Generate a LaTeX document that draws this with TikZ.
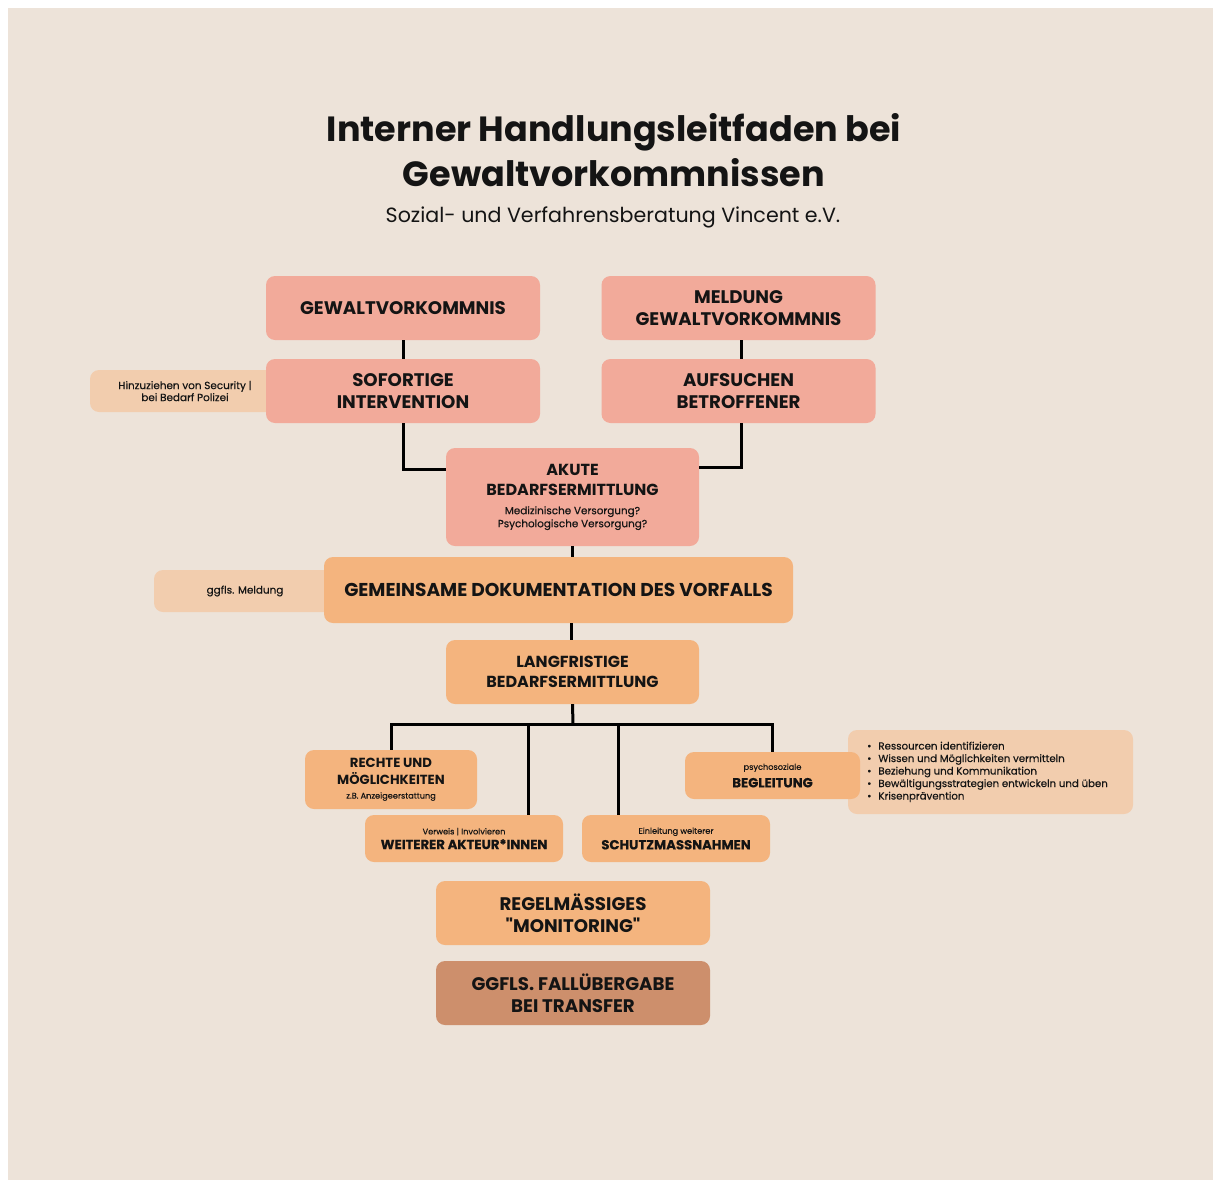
\documentclass[tikz,border=0pt]{standalone}
\usepackage{fontspec}
\setmainfont{Poppins}[Ligatures=TeXOff]
\newfontfamily\medfont{Poppins}[FakeBold=0.35]
\usetikzlibrary{calc}
\definecolor{bgc}{HTML}{EDE3D9}
\definecolor{salmon}{HTML}{F2AA9A}
\definecolor{orng}{HTML}{F4B47E}
\definecolor{lightc}{HTML}{F2CDAE}
\definecolor{brown}{HTML}{CD8F6C}
\definecolor{ink}{HTML}{141414}
\newcommand\myfs[2]{\fontsize{#1}{#2}\selectfont}
\newcommand\smalltxt{\medfont\mdseries\myfs{8.2}{10}}
\newcommand\midtxt{\myfs{13.2}{16}\bfseries}
\newcommand\aktxt{\medfont\mdseries\myfs{10.4}{13}}
\begin{document}
\begin{tikzpicture}[x=1pt,y=-1pt,
  box/.style={rounded corners=9pt, inner sep=0pt, align=center, text=ink},
  big/.style={box, minimum width=274pt, minimum height=64pt, font=\myfs{18.2}{22.5}\bfseries},
  side/.style={box, fill=lightc, minimum height=42pt, font=\medfont\mdseries\myfs{10.4}{12}},
  conn/.style={line width=3pt, black}]
\useasboundingbox (0,0) rectangle (1214,1180);
\fill[white] (0,0) rectangle (1214,1180);
\fill[bgc] (8,8) rectangle (1213,1180);

% title
\node[font=\myfs{35}{45}\bfseries, align=center, text=ink] (title) at (614,150) {Interner Handlungsleitfaden bei\\Gewaltvorkommnissen};
\node[font=\myfs{20.6}{25}, text=ink] (sub) at (613,217) {Sozial- und Verfahrensberatung Vincent e.V.};

% side boxes (behind)
\node[side, minimum width=190pt] (hinzu) at (185,391) {Hinzuziehen von Security |\\bei Bedarf Polizei};
\node[side, minimum width=182pt] (ggfls) at (245,591) {ggfls. Meldung};
\node[side, minimum width=285pt, minimum height=84pt, align=left, font=\medfont\mdseries\myfs{10.2}{12.5}] (bullets) at (990.5,772)
  {\begin{tabular}{@{}l@{\hspace{7pt}}l@{}}
  •&Ressourcen identifizieren\\[0pt]
  •&Wissen und Möglichkeiten vermitteln\\[0pt]
  •&Beziehung und Kommunikation\\[0pt]
  •&Bewältigungsstrategien entwickeln und üben\\[0pt]
  •&Krisenprävention
  \end{tabular}\hspace*{6pt}};

% main boxes
\node[big, fill=salmon] (gewalt) at (403,308) {GEWALTVORKOMMNIS};
\node[big, fill=salmon] (meld) at (738.5,308) {MELDUNG\\GEWALTVORKOMMNIS};
\node[big, fill=salmon] (sofort) at (403,391) {SOFORTIGE\\INTERVENTION};
\node[big, fill=salmon] (aufs) at (738.5,391) {AUFSUCHEN\\BETROFFENER};
\node[box, fill=salmon, minimum width=253pt, minimum height=98pt, font=\myfs{16}{20}\bfseries] (akute) at (572.5,497)
  {AKUTE\\BEDARFSERMITTLUNG\\[-1pt]\aktxt Medizinische Versorgung?\\[-7pt]\aktxt Psychologische Versorgung?};
\node[box, fill=orng, minimum width=469pt, minimum height=66pt, font=\myfs{18.6}{22}\bfseries] (doku) at (558.5,590) {GEMEINSAME DOKUMENTATION DES VORFALLS};
\node[box, fill=orng, minimum width=253pt, minimum height=64pt, font=\myfs{16}{20}\bfseries] (lang) at (572.5,672) {LANGFRISTIGE\\BEDARFSERMITTLUNG};

\node[box, fill=orng, minimum width=172pt, minimum height=59pt, font=\myfs{13.2}{17}\bfseries] (rechte) at (391,779.5)
  {RECHTE UND\\MÖGLICHKEITEN\\[-3pt]\smalltxt z.B. Anzeigeerstattung};
\node[box, fill=orng, minimum width=198pt, minimum height=47pt, font=\smalltxt] (weit) at (464,838.5)
  {Verweis | Involvieren\\[3pt]\midtxt WEITERER AKTEUR*INNEN};
\node[box, fill=orng, minimum width=188pt, minimum height=47pt, font=\smalltxt] (schutz) at (676,838.5)
  {Einleitung weiterer\\[3pt]\midtxt SCHUTZMASSNAHMEN};
\node[box, fill=orng, minimum width=175pt, minimum height=47pt, font=\smalltxt] (begl) at (772.5,775.5)
  {psychosoziale\\[5pt]\midtxt BEGLEITUNG};

\node[big, fill=orng] (regel) at (573,913) {REGELMÄSSIGES\\"MONITORING"};
\node[big, fill=brown] (fall) at (573,993) {GGFLS. FALLÜBERGABE\\BEI TRANSFER};

% connectors
\draw[conn] (gewalt.south) -- (sofort.north);
\draw[conn] ($(meld.south)+(2.5,0)$) -- ($(aufs.north)+(2.5,0)$);
\draw[conn] (sofort.south) |- ($(akute.north west)+(0,22)$);
\draw[conn] ($(aufs.south)+(2.5,0)$) |- ($(akute.north east)+(0,20)$);
\draw[conn] (akute.south) -- (akute.south |- doku.north);
\draw[conn] ($(doku.south)+(12.5,0)$) -- ($(lang.north)+(-1.5,0)$);
\coordinate (hub) at ($(lang.south)+(0.5,20)$);
\draw[conn] (lang.south) -- (hub);
\draw[conn] (rechte.north) |- (hub);
\draw[conn] (hub) -| (begl.north);
\draw[conn] (hub) -| ($(weit.north)+(64,0)$);
\draw[conn] (hub) -| ($(schutz.north)+(-58,0)$);
\end{tikzpicture}
\end{document}
